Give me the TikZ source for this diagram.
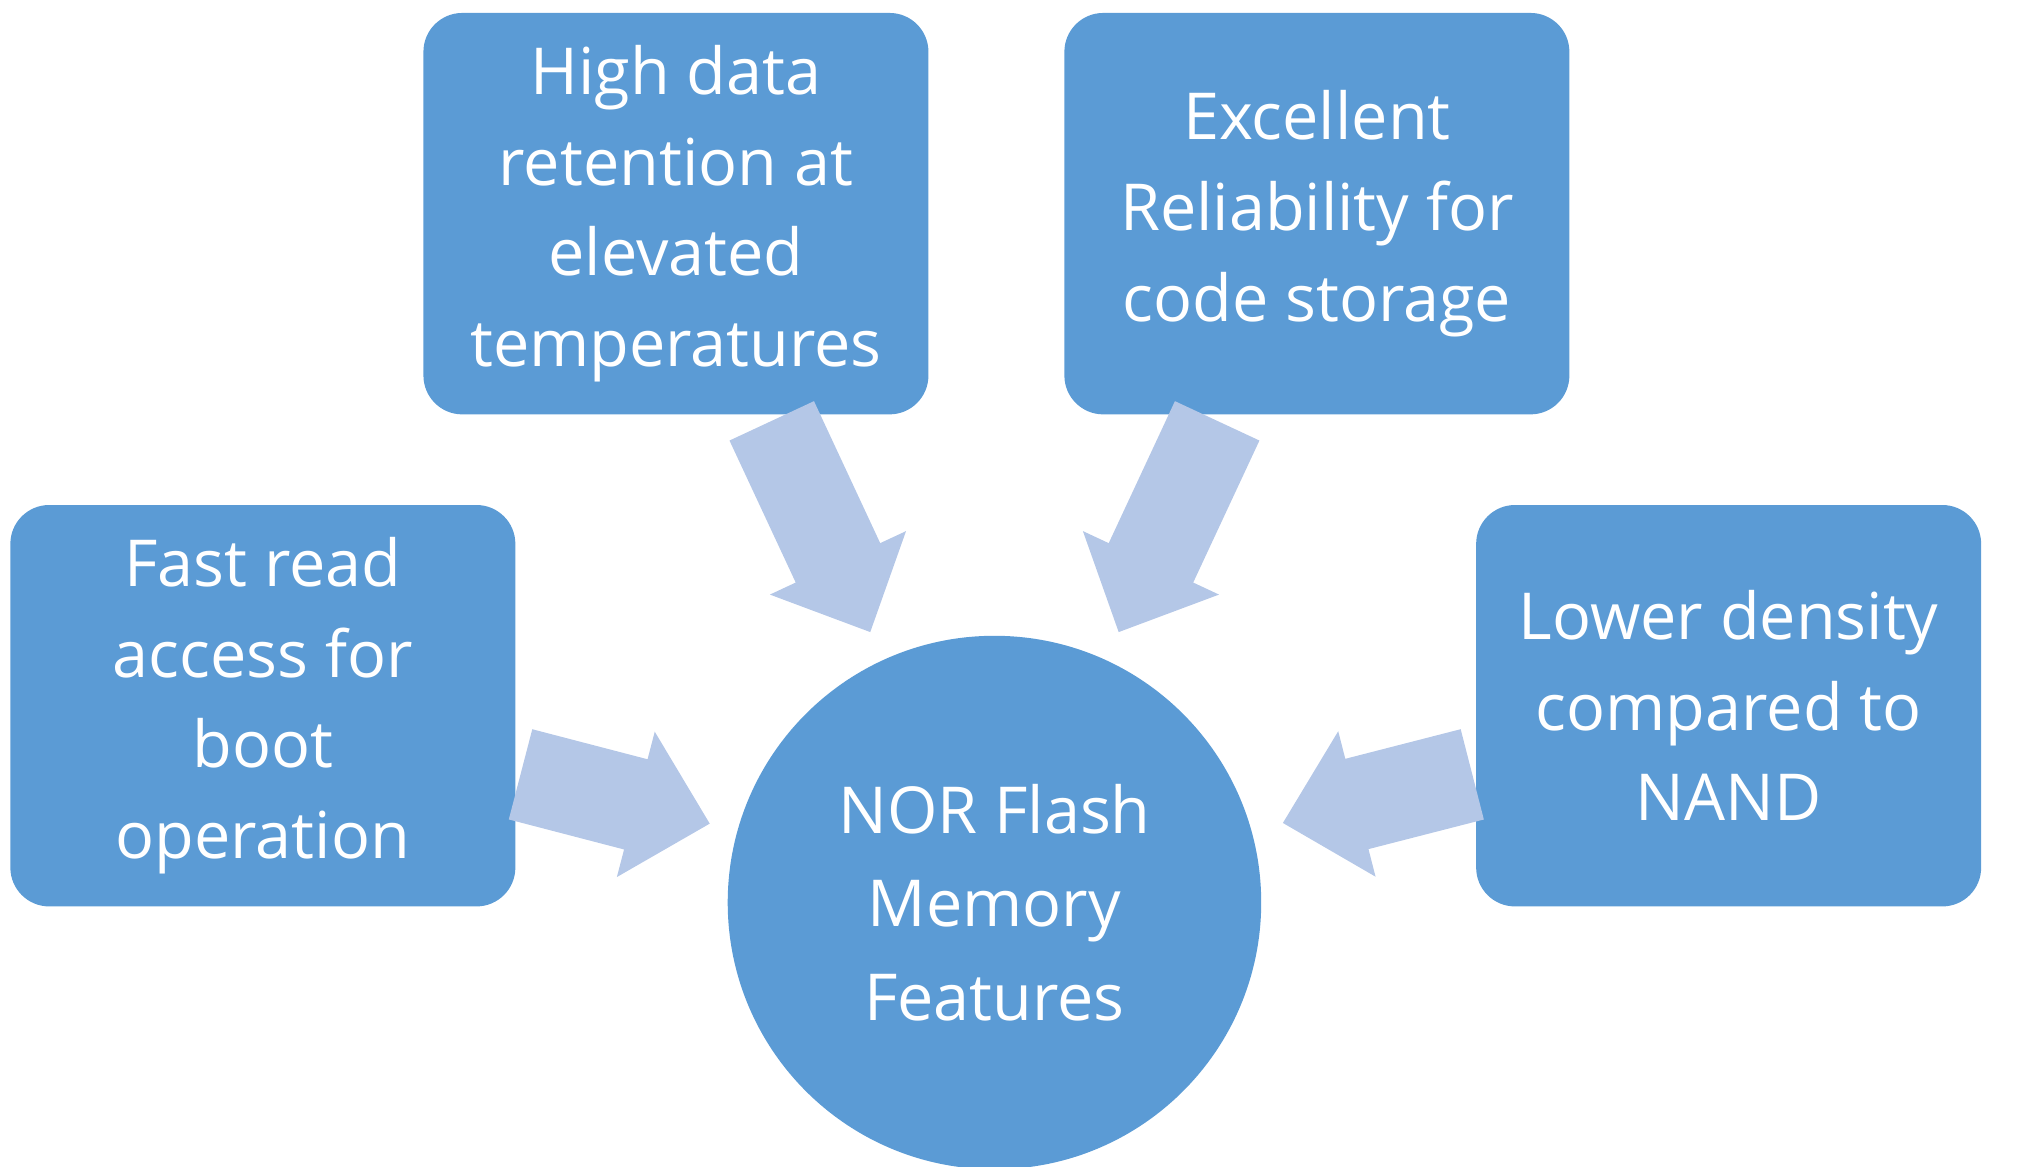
\documentclass[tikz,border=0pt]{standalone}
\usepackage{fontspec}
\setmainfont{Open Sans}
\definecolor{boxblue}{HTML}{5B9BD5}
\definecolor{arrowblue}{HTML}{B4C7E7}
\tikzset{feature/.style={rectangle,rounded corners=15pt,fill=boxblue,text=white,minimum width=195pt,minimum height=155pt,align=center,font=\fontsize{25}{35}\selectfont,inner sep=0pt}}
\tikzset{hub/.style={circle,fill=boxblue,text=white,minimum size=206pt,align=center,font=\fontsize{25}{36}\selectfont,inner sep=0pt}}
\tikzset{push/.style={fill=arrowblue}}

\begin{document}
\begin{tikzpicture}[x=0.5pt,y=-0.5pt]
  \useasboundingbox (0,0) rectangle (1560,901);
  % boxes
  \node[feature] (Fast) at (203,545) {Fast read\\access for\\boot\\operation};
  \node[feature] (High) at (522,165) {High data\\retention at\\elevated\\temperatures};
  \node[feature] (Excel) at (1017,165) {Excellent\\Reliability for\\code storage};
  \node[feature] (Lower) at (1335,545) {Lower density\\compared to\\NAND};
  \node[hub] (NOR) at (768,697) {NOR Flash\\Memory\\Features};
  % arrows
  \foreach \x/\y/\a/\l in {402/598/-14.6/151, 596/325/-65/180, 940/325/-115/180, 1137/598/-165.6/151}
    \fill[push,shift={(\x,\y)},rotate=\a]
      (0,-36) -- (\l-59,-36) -- (\l-59,-58) -- (\l,0) -- (\l-59,58) -- (\l-59,36) -- (0,36) -- cycle;
\end{tikzpicture}
\end{document}
